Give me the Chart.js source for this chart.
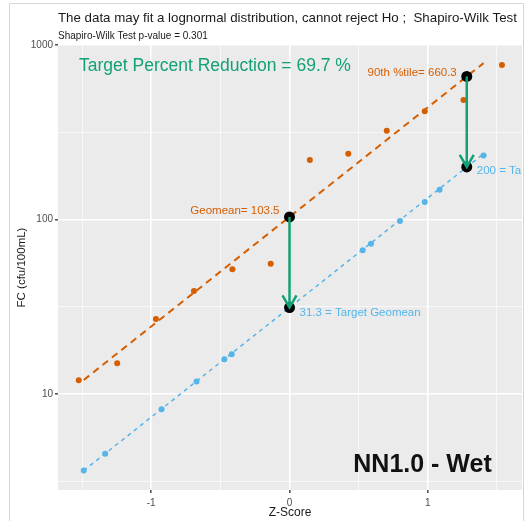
<!DOCTYPE html>
<html>
<head>
<meta charset="utf-8">
<script src="https://cdn.jsdelivr.net/npm/chart.js@4"></script>
<style>
  html, body { margin: 0; padding: 0; background: #ffffff; }
  #wrap { width: 531px; height: 521px; }
</style>
</head>
<body>
<div id="wrap"><canvas id="c" width="531" height="521"></canvas></div>
<script>
// Observed FC samples (normal scores vs cfu/100mL)
const zObserved  = [-1.524, -1.246, -0.966, -0.691, -0.413, -0.136, 0.147, 0.425, 0.703, 0.978, 1.258, 1.536];
const fcObserved = [12.0, 15.0, 26.9, 38.9, 51.8, 55.8, 219, 238, 323, 417, 484, 767];

// Target distribution samples
const zTarget  = [-1.488, -1.333, -0.925, -0.672, -0.471, -0.418, 0.529, 0.589, 0.799, 0.978, 1.085, 1.403];
const fcTarget = [3.65, 4.55, 8.17, 11.8, 15.8, 16.9, 66.6, 72.7, 98, 126, 148, 233];

// Fitted lognormal lines (end points)
const fitZ        = [-1.488, 1.403];
const fitObserved = [12.04, 787];
const fitTarget   = [3.64, 238];

// Summary statistics: geomean (z = 0) and 90th percentile (z = 1.2816)
const statZ        = [0, 1.2816];
const statObserved = [103.5, 660.3];
const statTarget   = [31.3, 200];
const percentReduction = 69.7;

// Axis ticks
const yTickValues = [3.162, 10, 31.62, 100, 316.2, 1000];
const yTickLabels = ['', '10', '', '100', '', '1000'];
const xTickValues = [-1.5, -1, -0.5, 0, 0.5, 1, 1.5];
const xTickLabels = ['', '-1', '', '0', '', '1', ''];

const siteLabel = 'NN1.0 - Wet';
const titleText = 'The data may fit a lognormal distribution, cannot reject Ho ;  Shapiro-Wilk Test';
const subtitleText = 'Shapiro-Wilk Test p-value = 0.301';

const ORANGE = '#D55E00';
const BLUE = '#56B4E9';
const GREEN = '#13A077';
const FONT = "'Liberation Sans', Arial, sans-serif";

const pts = (xs, ys) => xs.map((x, i) => ({ x: x, y: ys[i] }));
const isMajorY = (tick) => tick && yTickLabels[yTickValues.indexOf(tick.value)] !== '';
const isMajorX = (tick) => tick && xTickLabels[xTickValues.indexOf(tick.value)] !== '';

const panelBackground = {
  id: 'panelBackground',
  beforeDraw(chart) {
    const { ctx, chartArea: a } = chart;
    ctx.save();
    // outer frame
    ctx.strokeStyle = '#d6d6d6';
    ctx.lineWidth = 1;
    ctx.beginPath();
    ctx.moveTo(9.5, 530);
    ctx.lineTo(9.5, 3.5);
    ctx.lineTo(523.5, 3.5);
    ctx.lineTo(523.5, 530);
    ctx.stroke();
    // panel
    ctx.fillStyle = '#EBEBEB';
    ctx.fillRect(a.left, a.top, a.right - a.left, a.bottom - a.top);
    ctx.restore();
  }
};

function arrow(ctx, x0, y0, x1, y1) {
  const ang = Math.atan2(y1 - y0, x1 - x0);
  const len = 14, spread = Math.PI / 6;
  ctx.beginPath();
  ctx.moveTo(x0, y0);
  ctx.lineTo(x1, y1);
  ctx.moveTo(x1 - len * Math.cos(ang - spread), y1 - len * Math.sin(ang - spread));
  ctx.lineTo(x1, y1);
  ctx.lineTo(x1 - len * Math.cos(ang + spread), y1 - len * Math.sin(ang + spread));
  ctx.stroke();
}

const annotations = {
  id: 'annotations',
  afterDatasetsDraw(chart) {
    const { ctx, chartArea: a } = chart;
    const xs = chart.scales.x, ys = chart.scales.y;
    ctx.save();
    // reduction arrows
    ctx.strokeStyle = GREEN;
    ctx.lineWidth = 2.5;
    ctx.lineCap = 'butt';
    ctx.lineJoin = 'miter';
    statZ.forEach((z, i) => {
      const px = xs.getPixelForValue(z);
      arrow(ctx, px, ys.getPixelForValue(statObserved[i]), px, ys.getPixelForValue(statTarget[i]));
    });

    // point labels
    ctx.font = '11.5px ' + FONT;
    ctx.textBaseline = 'middle';
    ctx.fillStyle = ORANGE;
    ctx.textAlign = 'right';
    ctx.fillText('Geomean= ' + statObserved[0].toFixed(1),
      xs.getPixelForValue(statZ[0]) - 10, ys.getPixelForValue(statObserved[0]) - 6);
    ctx.fillText('90th %tile= ' + statObserved[1].toFixed(1),
      xs.getPixelForValue(statZ[1]) - 10, ys.getPixelForValue(statObserved[1]) - 4);

    ctx.save();
    ctx.beginPath();
    ctx.rect(a.left, a.top, a.right - a.left, a.bottom - a.top);
    ctx.clip();
    ctx.fillStyle = BLUE;
    ctx.textAlign = 'left';
    ctx.fillText(statTarget[0].toFixed(1) + ' = Target Geomean',
      xs.getPixelForValue(statZ[0]) + 10, ys.getPixelForValue(statTarget[0]) + 5);
    ctx.fillText(statTarget[1] + ' = Target 90th %tile',
      xs.getPixelForValue(statZ[1]) + 10, ys.getPixelForValue(statTarget[1]) + 4);
    ctx.restore();

    // reduction headline
    ctx.fillStyle = GREEN;
    ctx.textAlign = 'left';
    ctx.font = '17.5px ' + FONT;
    ctx.fillText('Target Percent Reduction = ' + percentReduction + ' %', a.left + 21, a.top + 21);

    // site label
    ctx.fillStyle = '#111111';
    ctx.textAlign = 'center';
    ctx.textBaseline = 'alphabetic';
    ctx.font = 'bold 25px ' + FONT;
    ctx.fillText(siteLabel, a.left + 364.5, a.bottom - 18);
    ctx.restore();
  },
  afterDraw(chart) {
    const { ctx, chartArea: a } = chart;
    ctx.save();
    ctx.fillStyle = '#1a1a1a';
    ctx.textAlign = 'left';
    ctx.textBaseline = 'alphabetic';
    ctx.font = '13.3px ' + FONT;
    ctx.fillText(titleText, a.left, 22);
    ctx.font = '10px ' + FONT;
    ctx.fillText(subtitleText, a.left, 39);
    ctx.restore();
  }
};

new Chart(document.getElementById('c'), {
  type: 'scatter',
  data: {
    datasets: [
      { label: 'stats target', data: pts(statZ, statTarget), backgroundColor: '#000', pointRadius: 5.5, pointBorderWidth: 0 },
      { label: 'stats observed', data: pts(statZ, statObserved), backgroundColor: '#000', pointRadius: 5.5, pointBorderWidth: 0 },
      { label: 'observed', data: pts(zObserved, fcObserved), backgroundColor: ORANGE, pointRadius: 3, pointBorderWidth: 0 },
      { label: 'target', data: pts(zTarget, fcTarget), backgroundColor: BLUE, pointRadius: 3, pointBorderWidth: 0 },
      { label: 'fit observed', data: pts(fitZ, fitObserved), showLine: true, borderColor: ORANGE, borderWidth: 2,
        borderDash: [7, 5], pointRadius: 0, fill: false },
      { label: 'fit target', data: pts(fitZ, fitTarget), showLine: true, borderColor: BLUE, borderWidth: 1.5,
        borderDash: [4, 4], pointRadius: 0, fill: false }
    ]
  },
  options: {
    responsive: false,
    devicePixelRatio: 1,
    animation: false,
    layout: { padding: { top: 45, left: 0, right: 9, bottom: 0 } },
    plugins: { legend: { display: false }, tooltip: { enabled: false } },
    scales: {
      x: {
        type: 'linear',
        min: -1.674,
        max: 1.681,
        afterBuildTicks: (s) => { s.ticks = xTickValues.map(v => ({ value: v })); },
        afterFit: (s) => { s.height = 31; },
        ticks: {
          autoSkip: false, maxRotation: 0, padding: 4,
          color: '#4D4D4D', font: { family: FONT, size: 10 },
          callback: (v, i) => xTickLabels[i]
        },
        grid: {
          color: (c) => isMajorX(c.tick) ? '#ffffff' : 'rgba(255,255,255,0.8)',
          lineWidth: (c) => isMajorX(c.tick) ? 1.6 : 0.8,
          tickColor: (c) => isMajorX(c.tick) ? '#555555' : 'rgba(0,0,0,0)',
          tickLength: 3
        },
        border: { display: false },
        title: { display: true, text: 'Z-Score', color: '#1a1a1a', font: { family: FONT, size: 12 }, padding: { top: 0, bottom: 1 } }
      },
      y: {
        type: 'logarithmic',
        min: 2.818,
        max: 1000,
        afterBuildTicks: (s) => { s.ticks = yTickValues.map(v => ({ value: v })); },
        afterFit: (s) => { s.width = 58; },
        ticks: {
          autoSkip: false, padding: 2,
          color: '#4D4D4D', font: { family: FONT, size: 10 },
          callback: (v, i) => yTickLabels[i]
        },
        grid: {
          color: (c) => isMajorY(c.tick) ? '#ffffff' : 'rgba(255,255,255,0.8)',
          lineWidth: (c) => isMajorY(c.tick) ? 1.6 : 0.8,
          tickColor: (c) => isMajorY(c.tick) ? '#555555' : 'rgba(0,0,0,0)',
          tickLength: 3
        },
        border: { display: false },
        title: { display: true, text: 'FC (cfu/100mL)', color: '#1a1a1a', font: { family: FONT, size: 11.5 }, padding: { top: 15, bottom: 0 } }
      }
    }
  },
  plugins: [panelBackground, annotations]
});
</script>
</body>
</html>
